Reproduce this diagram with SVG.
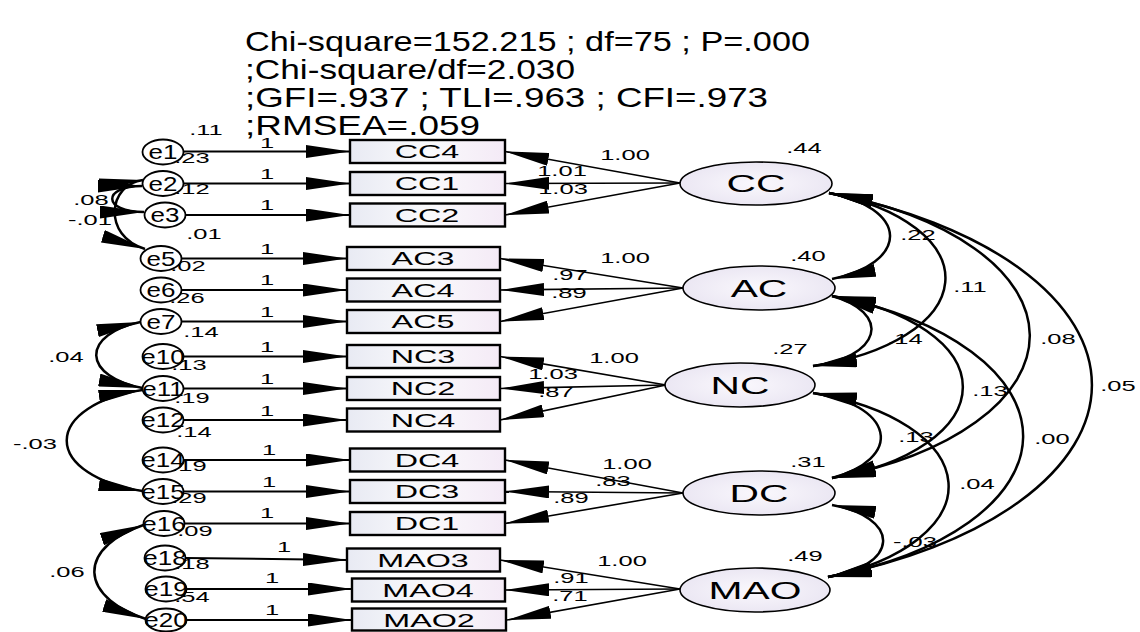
<svg xmlns="http://www.w3.org/2000/svg" width="1140" height="632" viewBox="0 0 1140 632">
<defs>
<style>
text{font-family:"Liberation Sans",Arial,sans-serif;fill:#000}
.h{font-size:28px}
.n{font-size:15px;text-anchor:middle}
.el{font-size:20px;text-anchor:middle}
.bl{font-size:19px;text-anchor:middle}
.ll{font-size:24px;text-anchor:middle}
.err{fill:#fff;stroke:#000;stroke-width:1.8}
.box{fill:url(#bg);stroke:#000;stroke-width:2.4}
.lat{fill:url(#lg);stroke:#000;stroke-width:1.6}
#connectors path{fill:none;stroke:#000}
.ar{stroke-width:2;marker-end:url(#ah)}
.ld{stroke-width:1.6;marker-end:url(#ah)}
.cv{stroke-width:2.5;marker-start:url(#ah);marker-end:url(#ah)}
</style>
<linearGradient id="bg" x1="0" x2="1" y1="0" y2="0"><stop offset="0" stop-color="#e8eaf3"/><stop offset="0.5" stop-color="#fafafc"/><stop offset="1" stop-color="#f4eaf6"/></linearGradient>
<radialGradient id="lg" cx="0.5" cy="0.5" r="0.5"><stop offset="0" stop-color="#faf8fd"/><stop offset="1" stop-color="#ebe7f3"/></radialGradient>
<marker id="ah" markerUnits="userSpaceOnUse" viewBox="0 0 44 13" refX="44" refY="6.5" markerWidth="44" markerHeight="13" orient="auto-start-reverse"><path d="M0,0 L44,6.5 L0,13 z" fill="#000"/></marker>
</defs>

<g id="header">
<text class="h" x="245" y="51" textLength="565" lengthAdjust="spacingAndGlyphs">Chi-square=152.215 ; df=75 ; P=.000</text>
<text class="h" x="245" y="79" textLength="330" lengthAdjust="spacingAndGlyphs">;Chi-square/df=2.030</text>
<text class="h" x="245" y="107" textLength="523" lengthAdjust="spacingAndGlyphs">;GFI=.937 ; TLI=.963 ; CFI=.973</text>
<text class="h" x="245" y="135" textLength="235" lengthAdjust="spacingAndGlyphs">;RMSEA=.059</text>
</g>

<g id="variance-labels">
<text class="n" transform="translate(206 135) scale(1.7 1)">.11</text>
<text class="n" transform="translate(192 163) scale(1.7 1)">.23</text>
<text class="n" transform="translate(192 194) scale(1.7 1)">.12</text>
<text class="n" transform="translate(204 239) scale(1.7 1)">.01</text>
<text class="n" transform="translate(188 271) scale(1.7 1)">.02</text>
<text class="n" transform="translate(187 303) scale(1.7 1)">.26</text>
<text class="n" transform="translate(201 337) scale(1.7 1)">.14</text>
<text class="n" transform="translate(189 370) scale(1.7 1)">.13</text>
<text class="n" transform="translate(192 403) scale(1.7 1)">.19</text>
<text class="n" transform="translate(194 437) scale(1.7 1)">.14</text>
<text class="n" transform="translate(189 471) scale(1.7 1)">.19</text>
<text class="n" transform="translate(189 503) scale(1.7 1)">.29</text>
<text class="n" transform="translate(195 536) scale(1.7 1)">.09</text>
<text class="n" transform="translate(192 569) scale(1.7 1)">.18</text>
<text class="n" transform="translate(192 602) scale(1.7 1)">.54</text>
<text class="n" transform="translate(804 153) scale(1.7 1)">.44</text>
<text class="n" transform="translate(808 261) scale(1.7 1)">.40</text>
<text class="n" transform="translate(790 354) scale(1.7 1)">.27</text>
<text class="n" transform="translate(808 467) scale(1.7 1)">.31</text>
<text class="n" transform="translate(805 561) scale(1.7 1)">.49</text>
</g>

<g id="connectors">
<path class="ar" d="M184,151.5 H350"/>
<path class="ar" d="M184,183.5 H350"/>
<path class="ar" d="M186,215 H350"/>
<path class="ar" d="M182,258.5 H347"/>
<path class="ar" d="M182,290 H347"/>
<path class="ar" d="M182,321.5 H347"/>
<path class="ar" d="M184,356.5 H347"/>
<path class="ar" d="M184,388.5 H347"/>
<path class="ar" d="M184,420 H347"/>
<path class="ar" d="M184,460 H350"/>
<path class="ar" d="M184,491.5 H350"/>
<path class="ar" d="M185,523.5 H350"/>
<path class="ar" d="M186,558 L347,560"/>
<path class="ar" d="M187,589 H352"/>
<path class="ar" d="M187,620 H352"/>

<path class="ld" d="M680,183 L505,151.5"/>
<path class="ld" d="M680,183 L505,183.5"/>
<path class="ld" d="M680,183 L505,215"/>
<path class="ld" d="M683,288 L500,258.5"/>
<path class="ld" d="M683,288 L500,290"/>
<path class="ld" d="M683,288 L500,321.5"/>
<path class="ld" d="M666,385 L500,356.5"/>
<path class="ld" d="M666,385 L500,388.5"/>
<path class="ld" d="M666,385 L500,420"/>
<path class="ld" d="M683,493 L505,460"/>
<path class="ld" d="M683,493 L505,491.5"/>
<path class="ld" d="M683,493 L505,523.5"/>
<path class="ld" d="M680,589 L500,560"/>
<path class="ld" d="M680,589 L505,590"/>
<path class="ld" d="M680,589 L507,620"/>

<path class="cv" d="M829,193 A91.9,45.95 0 0 1 832,279"/>
<path class="cv" d="M829,193 A182.9,91.4 0 0 1 813,366"/>
<path class="cv" d="M829,193 A303.3,151.7 0 0 1 832,478"/>
<path class="cv" d="M829,193 A411.6,205.8 0 0 1 828,577"/>
<path class="cv" d="M832,296 A75.6,37.8 0 0 1 813,366"/>
<path class="cv" d="M832,296 A192,96 0 0 1 832,478"/>
<path class="cv" d="M832,296 A301,150.5 0 0 1 828,577"/>
<path class="cv" d="M813,393 A92,46 0 0 1 832,478"/>
<path class="cv" d="M813,393 A196.3,98.2 0 0 1 828,577"/>
<path class="cv" d="M832,505 A75.4,37.7 0 0 1 828,577"/>

<path class="cv" d="M142,186 C102,186 102,212 144,212"/>
<path class="cv" d="M143,180 C108,184 102,236 145,249"/>
<path class="cv" d="M140.5,322 A70.9,35.4 0 0 0 142.5,388"/>
<path class="cv" d="M142.5,390 A105.2,52.6 0 0 0 142.5,491"/>
<path class="cv" d="M143.5,525 A112.7,56.4 0 0 0 146,619"/>
</g>

<g id="path-labels">
<text class="n" transform="translate(267 148) scale(1.7 1)">1</text>
<text class="n" transform="translate(267 179) scale(1.7 1)">1</text>
<text class="n" transform="translate(267 210) scale(1.7 1)">1</text>
<text class="n" transform="translate(267 254) scale(1.7 1)">1</text>
<text class="n" transform="translate(267 285) scale(1.7 1)">1</text>
<text class="n" transform="translate(267 317) scale(1.7 1)">1</text>
<text class="n" transform="translate(267 352) scale(1.7 1)">1</text>
<text class="n" transform="translate(267 384) scale(1.7 1)">1</text>
<text class="n" transform="translate(267 416) scale(1.7 1)">1</text>
<text class="n" transform="translate(269 455) scale(1.7 1)">1</text>
<text class="n" transform="translate(269 487) scale(1.7 1)">1</text>
<text class="n" transform="translate(267 518) scale(1.7 1)">1</text>
<text class="n" transform="translate(284 552) scale(1.7 1)">1</text>
<text class="n" transform="translate(272 583) scale(1.7 1)">1</text>
<text class="n" transform="translate(272 615) scale(1.7 1)">1</text>

<text class="n" transform="translate(625 160) scale(1.7 1)">1.00</text>
<text class="n" transform="translate(562 176) scale(1.7 1)">1.01</text>
<text class="n" transform="translate(563 194) scale(1.7 1)">1.03</text>
<text class="n" transform="translate(625 263) scale(1.7 1)">1.00</text>
<text class="n" transform="translate(570 280) scale(1.7 1)">.97</text>
<text class="n" transform="translate(569 298) scale(1.7 1)">.89</text>
<text class="n" transform="translate(614 363) scale(1.7 1)">1.00</text>
<text class="n" transform="translate(553 379) scale(1.7 1)">1.03</text>
<text class="n" transform="translate(556 397) scale(1.7 1)">.87</text>
<text class="n" transform="translate(627 469) scale(1.7 1)">1.00</text>
<text class="n" transform="translate(613 486) scale(1.7 1)">.83</text>
<text class="n" transform="translate(571 503) scale(1.7 1)">.89</text>
<text class="n" transform="translate(622 566) scale(1.7 1)">1.00</text>
<text class="n" transform="translate(571 583) scale(1.7 1)">.91</text>
<text class="n" transform="translate(570 601) scale(1.7 1)">.71</text>

<text class="n" transform="translate(918 240) scale(1.7 1)">.22</text>
<text class="n" transform="translate(970 292) scale(1.7 1)">.11</text>
<text class="n" transform="translate(1058 344) scale(1.7 1)">.08</text>
<text class="n" transform="translate(1118 391) scale(1.7 1)">.05</text>
<text class="n" transform="translate(905 344) scale(1.7 1)">.14</text>
<text class="n" transform="translate(990 396) scale(1.7 1)">.13</text>
<text class="n" transform="translate(1052 444) scale(1.7 1)">.00</text>
<text class="n" transform="translate(916 442) scale(1.7 1)">.13</text>
<text class="n" transform="translate(977 489) scale(1.7 1)">.04</text>
<text class="n" transform="translate(915 547) scale(1.7 1)">-.03</text>

<text class="n" transform="translate(91 205) scale(1.7 1)">.08</text>
<text class="n" transform="translate(90 225) scale(1.7 1)">-.01</text>
<text class="n" transform="translate(66 362) scale(1.7 1)">.04</text>
<text class="n" transform="translate(35 449) scale(1.7 1)">-.03</text>
<text class="n" transform="translate(67 577) scale(1.7 1)">.06</text>
</g>

<g id="e1"><ellipse class="err" cx="163" cy="152" rx="20.5" ry="12.5"/><text class="el" transform="translate(163 159) scale(1.3 1)">e1</text></g>
<g id="e2"><ellipse class="err" cx="163" cy="183.5" rx="20.5" ry="12.5"/><text class="el" transform="translate(163 190.5) scale(1.3 1)">e2</text></g>
<g id="e3"><ellipse class="err" cx="165" cy="215" rx="20.5" ry="12.5"/><text class="el" transform="translate(165 222) scale(1.3 1)">e3</text></g>
<g id="e5"><ellipse class="err" cx="161" cy="258.5" rx="20.5" ry="12.5"/><text class="el" transform="translate(161 265.5) scale(1.3 1)">e5</text></g>
<g id="e6"><ellipse class="err" cx="161" cy="290" rx="20.5" ry="12.5"/><text class="el" transform="translate(161 297) scale(1.3 1)">e6</text></g>
<g id="e7"><ellipse class="err" cx="161" cy="321.5" rx="20.5" ry="12.5"/><text class="el" transform="translate(161 328.5) scale(1.3 1)">e7</text></g>
<g id="e10"><ellipse class="err" cx="163" cy="356.5" rx="20.5" ry="12.5"/><text class="el" transform="translate(163 363.5) scale(1.3 1)">e10</text></g>
<g id="e11"><ellipse class="err" cx="163" cy="388.5" rx="20.5" ry="12.5"/><text class="el" transform="translate(163 395.5) scale(1.3 1)">e11</text></g>
<g id="e12"><ellipse class="err" cx="163" cy="420" rx="20.5" ry="12.5"/><text class="el" transform="translate(163 427) scale(1.3 1)">e12</text></g>
<g id="e14"><ellipse class="err" cx="163" cy="460" rx="20.5" ry="12.5"/><text class="el" transform="translate(163 467) scale(1.3 1)">e14</text></g>
<g id="e15"><ellipse class="err" cx="163" cy="491.5" rx="20.5" ry="12.5"/><text class="el" transform="translate(163 498.5) scale(1.3 1)">e15</text></g>
<g id="e16"><ellipse class="err" cx="164" cy="523.5" rx="20.5" ry="12.5"/><text class="el" transform="translate(164 530.5) scale(1.3 1)">e16</text></g>
<g id="e18"><ellipse class="err" cx="165" cy="558" rx="20.5" ry="12.5"/><text class="el" transform="translate(165 565) scale(1.3 1)">e18</text></g>
<g id="e19"><ellipse class="err" cx="166" cy="589" rx="20.5" ry="12.5"/><text class="el" transform="translate(166 596) scale(1.3 1)">e19</text></g>
<g id="e20"><ellipse class="err" cx="166" cy="620" rx="20.5" ry="11.5"/><text class="el" transform="translate(166 627) scale(1.3 1)">e20</text></g>

<g id="CC4"><rect class="box" x="350" y="140" width="155" height="23"/><text class="bl" transform="translate(427 158) scale(1.7 1)">CC4</text></g>
<g id="CC1"><rect class="box" x="350" y="172" width="155" height="23"/><text class="bl" transform="translate(427 190) scale(1.7 1)">CC1</text></g>
<g id="CC2"><rect class="box" x="350" y="203.5" width="155" height="23"/><text class="bl" transform="translate(427 221.5) scale(1.7 1)">CC2</text></g>
<g id="AC3"><rect class="box" x="347" y="247" width="153" height="23"/><text class="bl" transform="translate(423 265) scale(1.7 1)">AC3</text></g>
<g id="AC4"><rect class="box" x="347" y="278.5" width="153" height="23"/><text class="bl" transform="translate(423 296.5) scale(1.7 1)">AC4</text></g>
<g id="AC5"><rect class="box" x="347" y="310" width="153" height="23"/><text class="bl" transform="translate(423 328) scale(1.7 1)">AC5</text></g>
<g id="NC3"><rect class="box" x="347" y="345" width="153" height="23"/><text class="bl" transform="translate(423 363) scale(1.7 1)">NC3</text></g>
<g id="NC2"><rect class="box" x="347" y="377" width="153" height="23"/><text class="bl" transform="translate(423 395) scale(1.7 1)">NC2</text></g>
<g id="NC4"><rect class="box" x="347" y="408.5" width="153" height="23"/><text class="bl" transform="translate(423 426.5) scale(1.7 1)">NC4</text></g>
<g id="DC4"><rect class="box" x="350" y="448.5" width="155" height="23"/><text class="bl" transform="translate(427 466.5) scale(1.7 1)">DC4</text></g>
<g id="DC3"><rect class="box" x="350" y="480" width="155" height="23"/><text class="bl" transform="translate(427 498) scale(1.7 1)">DC3</text></g>
<g id="DC1"><rect class="box" x="350" y="512" width="155" height="23"/><text class="bl" transform="translate(427 530) scale(1.7 1)">DC1</text></g>
<g id="MAO3"><rect class="box" x="347" y="548.5" width="153" height="23"/><text class="bl" transform="translate(423 566.5) scale(1.7 1)">MAO3</text></g>
<g id="MAO4"><rect class="box" x="352" y="578.5" width="153" height="23"/><text class="bl" transform="translate(428 596.5) scale(1.7 1)">MAO4</text></g>
<g id="MAO2"><rect class="box" x="352" y="608.5" width="154" height="22"/><text class="bl" transform="translate(429 626.5) scale(1.7 1)">MAO2</text></g>

<g id="CC"><ellipse class="lat" cx="756" cy="183.5" rx="76" ry="21.5"/><text class="ll" transform="translate(756 192) scale(1.7 1)">CC</text></g>
<g id="AC"><ellipse class="lat" cx="759" cy="288" rx="76" ry="22"/><text class="ll" transform="translate(759 296.5) scale(1.7 1)">AC</text></g>
<g id="NC"><ellipse class="lat" cx="740" cy="385" rx="75" ry="22"/><text class="ll" transform="translate(740 393.5) scale(1.7 1)">NC</text></g>
<g id="DC"><ellipse class="lat" cx="759" cy="493" rx="76" ry="22"/><text class="ll" transform="translate(759 501.5) scale(1.7 1)">DC</text></g>
<g id="MAO"><ellipse class="lat" cx="755" cy="590" rx="75" ry="22"/><text class="ll" transform="translate(755 598.5) scale(1.7 1)">MAO</text></g>
</svg>
